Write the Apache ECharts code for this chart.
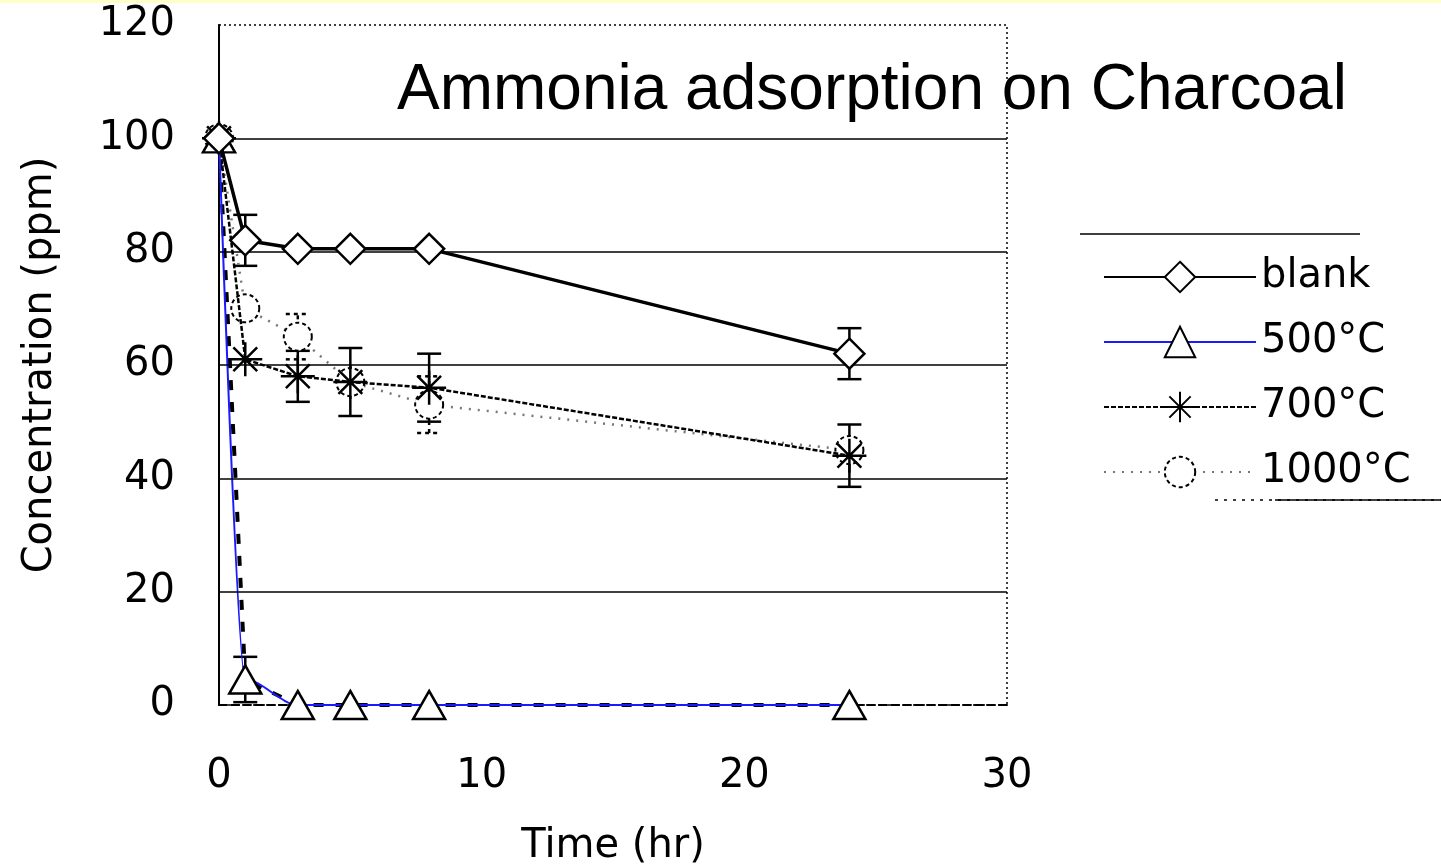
<!DOCTYPE html>
<html>
<head>
<meta charset="utf-8">
<script src="https://cdn.jsdelivr.net/npm/echarts@6/dist/echarts.min.js"></script>
<style>html,body{margin:0;padding:0;background:#fff;}#c{width:1441px;height:866px;}</style>
</head>
<body>
<div id="c"></div>
<script>
const times = [0, 1, 3, 5, 8, 24];
const blank = [100, 82, 80.5, 80.5, 80.5, 62];
const c500 = [100, 4.5, 0, 0, 0, 0];
const c700 = [100, 61, 58, 57, 56, 44];
const c1000 = [100, 70, 65, 57, 53, 45];
const errBlank = [0, 4.5, 0, 0, 0, 4.5];
const err500 = [0, 4, 0, 0, 0, 0];
const err700 = [0, 0, 4.5, 6, 6, 5.5];
const err1000 = [0, 0, 4, 0, 5, 0];
const gridLevels = [20, 40, 60, 80, 100];
const seriesNames = ['blank', '500°C', '700°C', '1000°C'];
const xTicks = [0, 10, 20, 30];
const yTicks = [0, 20, 40, 60, 80, 100, 120];

const pairs = v => times.map((t, i) => [t, v[i]]);
const errData = (v, e) => times.map((t, i) => [t, v[i] - e[i], v[i] + e[i]]).filter((d, i) => e[i] > 0);

function errSeries(v, e, dashed) {
  return {
    type: 'custom', silent: true, z: 1,
    data: errData(v, e),
    renderItem: function (params, api) {
      const x = api.value(0);
      const lo = api.coord([x, api.value(1)]);
      const hi = api.coord([x, api.value(2)]);
      const w = 12;
      const style = { stroke: '#000', lineWidth: 2.5, lineDash: dashed ? [4, 4] : null };
      return { type: 'group', children: [
        { type: 'line', shape: { x1: lo[0], y1: lo[1], x2: hi[0], y2: hi[1] }, style: style },
        { type: 'line', shape: { x1: lo[0] - w, y1: lo[1], x2: lo[0] + w, y2: lo[1] }, style: style },
        { type: 'line', shape: { x1: hi[0] - w, y1: hi[1], x2: hi[0] + w, y2: hi[1] }, style: style }
      ]};
    }
  };
}

const starPath = 'path://M0,-10L0,10M-10,0L10,0M-7,-7L7,7M-7,7L7,-7';
const FONT = 'DejaVu Sans';

const chart = echarts.init(document.getElementById('c'));
chart.setOption({
  animation: false,
  backgroundColor: '#fff',
  title: {
    text: 'Ammonia adsorption on Charcoal',
    left: 392, top: 54,
    textStyle: { fontFamily: 'Liberation Sans', fontSize: 64, fontWeight: 'normal', color: '#000' }
  },
  graphic: [
    { type: 'rect', shape: { x: 0, y: 0, width: 1441, height: 3 }, style: { fill: '#ffffcc' } },
    { type: 'line', shape: { x1: 1080, y1: 234, x2: 1360, y2: 234 }, style: { stroke: '#000', lineWidth: 1.5 } },
    { type: 'line', shape: { x1: 1215, y1: 500, x2: 1441, y2: 500 }, style: { stroke: '#000', lineWidth: 1.5, lineDash: [3, 6] } },
    { type: 'line', shape: { x1: 1275, y1: 500, x2: 1441, y2: 500 }, style: { stroke: '#000', lineWidth: 1.5 } }
  ],
  grid: {
    left: 219, right: 434, top: 25, bottom: 161,
    outerBoundsMode: 'none', containLabel: false,
    show: true, borderColor: '#000', borderWidth: 1.5, borderType: [2, 3]
  },
  legend: {
    data: seriesNames.map(n => n === '1000°C'
      ? { name: n, itemStyle: { borderType: [4, 3] } }
      : { name: n }),
    orient: 'vertical',
    left: 1098, top: 252,
    itemWidth: 152, itemHeight: 38, itemGap: 25,
    textStyle: { fontFamily: FONT, fontSize: 40, color: '#000' }
  },
  xAxis: {
    type: 'value', min: 0, max: 30, interval: 10,
    name: 'Time (hr)', nameLocation: 'middle', nameGap: 122,
    nameTextStyle: { fontFamily: FONT, fontSize: 40, color: '#000' },
    axisLine: { show: true, lineStyle: { color: '#000', width: 2, type: [8, 4] } },
    axisTick: { show: false },
    splitLine: { show: false },
    axisLabel: { fontFamily: FONT, fontSize: 40, color: '#000', margin: 52,
      formatter: v => xTicks.includes(v) ? String(v) : '' }
  },
  yAxis: {
    type: 'value', min: 0, max: 120, interval: 20,
    name: 'Concentration (ppm)', nameLocation: 'middle', nameGap: 158,
    nameTextStyle: { fontFamily: FONT, fontSize: 40, color: '#000' },
    axisLine: { show: true, lineStyle: { color: '#000', width: 2 } },
    axisTick: { show: false },
    splitLine: { show: false },
    axisLabel: { fontFamily: FONT, fontSize: 40, color: '#000', margin: 44, padding: [9, 0, 0, 0],
      formatter: v => yTicks.includes(v) ? String(v) : '' }
  },
  series: [
    {
      type: 'line', silent: true, data: [], symbol: 'none',
      markLine: {
        silent: true, symbol: 'none', label: { show: false },
        lineStyle: { color: '#000', width: 1.5, type: 'solid' },
        data: gridLevels.map(v => ({ yAxis: v }))
      }
    },
    errSeries(blank, errBlank, false),
    errSeries(c500, err500, false),
    errSeries(c700, err700, false),
    errSeries(c1000, err1000, true),
    {
      name: '1000°C', type: 'line', data: pairs(c1000), z: 2,
      symbol: 'circle', symbolSize: 28,
      lineStyle: { color: '#777', width: 2.5, type: [2, 7] },
      itemStyle: { color: '#fff', borderColor: '#000', borderWidth: 2, borderType: [4, 3] }
    },
    {
      name: '700°C', type: 'line', data: pairs(c700), z: 3,
      symbol: starPath, symbolSize: 34,
      lineStyle: { color: '#000', width: 2.5, type: [5, 2] },
      itemStyle: { color: '#fff', borderColor: '#000', borderWidth: 2.5 }
    },
    {
      type: 'line', data: pairs(c500), z: 3, symbol: 'none',
      lineStyle: { color: '#000', width: 4, type: [10, 12] }
    },
    {
      name: '500°C', type: 'line', data: pairs(c500), z: 4,
      smooth: 0.3, smoothMonotone: 'x',
      symbol: 'triangle', symbolSize: [32, 28],
      lineStyle: { color: '#1a1aff', width: 2 },
      itemStyle: { color: '#fff', borderColor: '#000', borderWidth: 2.5 }
    },
    {
      name: 'blank', type: 'line', data: pairs(blank), z: 5,
      symbol: 'diamond', symbolSize: [30, 30],
      lineStyle: { color: '#000', width: 3.5 },
      itemStyle: { color: '#fff', borderColor: '#000', borderWidth: 2.5 }
    }
  ]
});
</script>
</body>
</html>
